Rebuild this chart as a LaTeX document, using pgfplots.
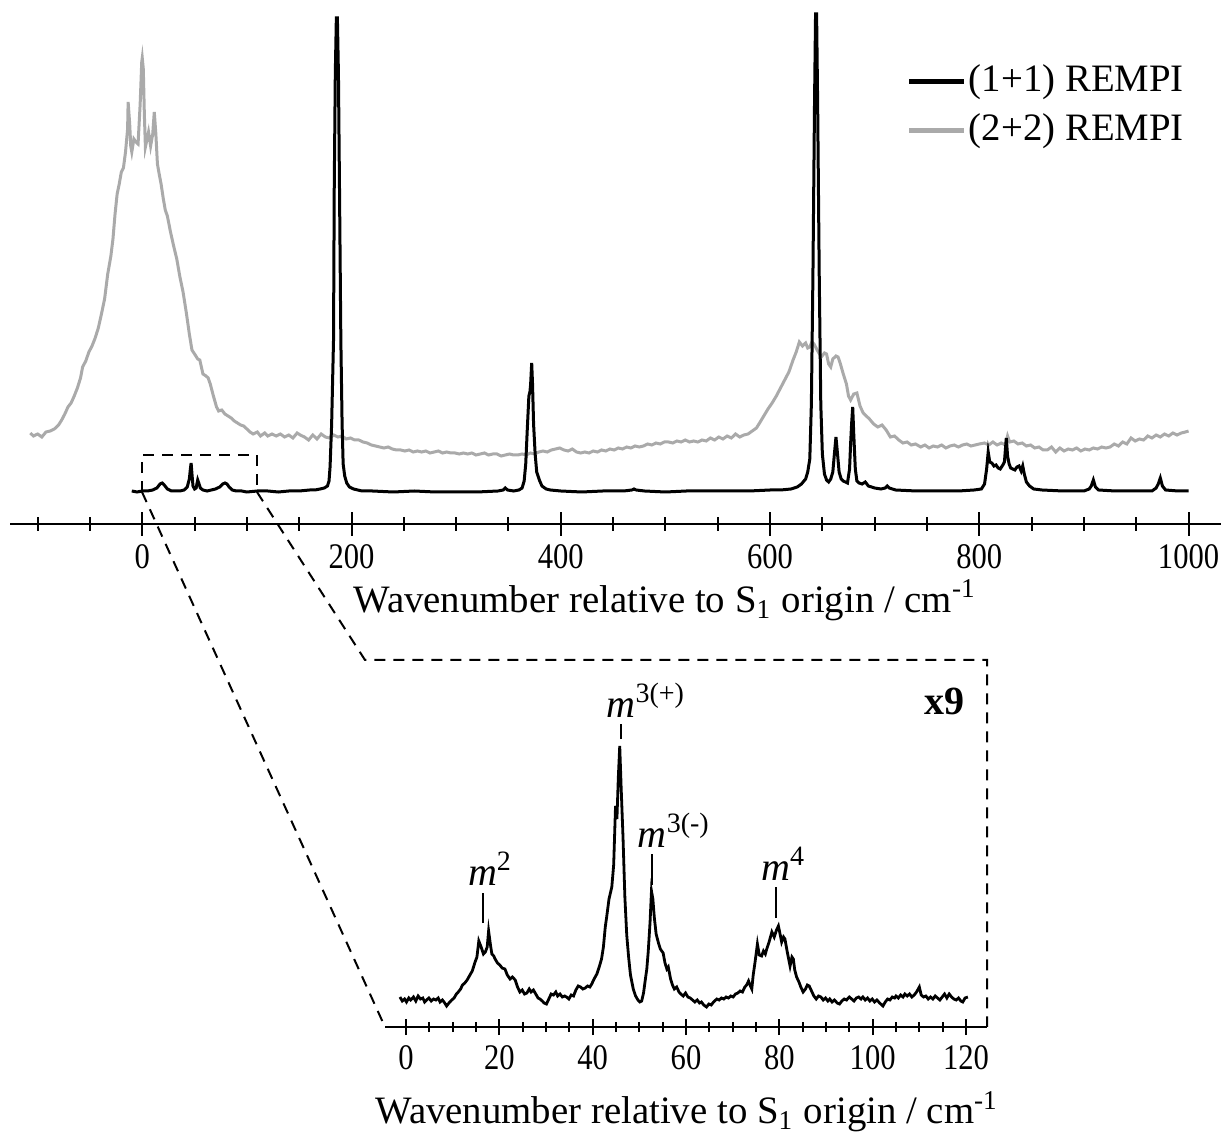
\documentclass[border=0pt]{standalone}
\usepackage{fontspec}
\setmainfont{Liberation Serif}
\newfontfamily\tickfont{Liberation Serif}[FakeStretch=0.85]
\usepackage{pgfplots}
\pgfplotsset{compat=1.18}
\definecolor{lgray}{RGB}{170,170,170}
\newcommand{\fs}{\fontsize{9.7}{11}\selectfont}
\newcommand{\tfs}{\tickfont\fontsize{9}{11}\selectfont}
\begin{document}
\begin{tikzpicture}[font=\fs]
\useasboundingbox (0pt,0pt) rectangle (305.25pt,-285.5pt);
% ---------------- top panel ----------------
\begin{axis}[
  at={(2.5pt,-131pt)}, anchor=south west,
  scale only axis, width=302.75pt, height=131pt,
  xmin=-126.4, xmax=1031, ymin=0, ymax=524,
  axis x line=bottom, axis y line=none,
  axis line style={-, line width=0.5pt},
  xtick={0,200,400,600,800,1000},
  xticklabels={0,200,400,600,800,1000},
  minor xtick={-100,-50,50,100,150,250,300,350,450,500,550,650,700,750,850,900,950},
  xtick align=center, major tick length=6pt, minor tick length=3.5pt,
  every tick/.style={black, line width=0.5pt},
  xticklabel style={font=\tfs, yshift=1.5pt},
  xlabel={Wavenumber relative to S\textsubscript{1} origin / cm\textsuperscript{-1}},
  every axis x label/.style={at={(axis description cs:0.541,-0.145)}, anchor=center, font=\fs},
  legend style={draw=none, fill=none, at={(axis description cs:0.740,0.885)}, anchor=north west,
    inner sep=0pt, row sep=2pt, column sep=0pt, font=\fs, nodes={inner xsep=0.5pt, inner ysep=1pt}},
  legend cell align=left,
  legend image code/.code={\draw[line width=1.25pt] (0pt,0pt) -- (13.75pt,0pt);},
]
\addlegendimage{black}
\addlegendentry{(1+1) REMPI}
\addlegendimage{lgray}
\addlegendentry{(2+2) REMPI}
% (2+2) REMPI
\addplot[forget plot, lgray, line width=0.75pt] coordinates {
(-107,91)(-104,88)(-100,90)(-96,87)(-92,92)(-88,93)(-84,95)(-80,99)(-77,104)(-74,110)
(-71,117)(-68,121)(-65,128)(-62,136)(-59,146)(-57,157)(-54,163)(-51,172)(-48,178)(-45,186)
(-42,196)(-39,210)(-36,225)(-33,250)(-30,268)(-28,285)(-26,310)(-24,330)(-22,340)(-20,352)
(-18,356)(-16,372)(-14,395)(-13.5,422)(-12,400)(-11,378)(-10,372)(-8,385)(-6,382)(-4,380)
(-2,420)(-0.5,462)(0,466)(1,455)(2,410)(3,377)(4,382)(6,392)(8,378)(10,390)
(11.5,412)(13,390)(14.5,360)(16,351)(18,340)(20,326)(22,314)(24,308)(27,292)(30,278)
(33,265)(36,247)(39,232)(42,212)(45,190)(47.5,174)(50,170)(53,165)(55,164)(58,150)
(61,148)(63,146)(65,140)(68,128)(71,117)(73,113)(76,114)(79,110)(82,108)(85,106)
(88,103)(91,101)(94,99)(97,98)(100,95)(103,92)(106,90)(110,92)(113,88)(117,91)
(120,88)(124,90)(128,88)(132,90)(136,87)(140,89)(144,86)(148,91)(151,89)(155,87)
(159,84)(163,89)(167,85)(171,90)(175,87)(179,86)(183,89)(187,87)(191,88)(195,85)
(199,86)(203,84)(207,84)(211,82)(215,81)(219,79)(223,78)(227,77)(231,76)(235,77)
(239,75)(243,74)(247,74)(251,73)(255,74)(259,72)(263,73)(267,72)(271,73)(275,71)
(279,72)(283,73)(287,71)(291,72)(295,71)(299,71)(303,70)(307,71)(311,70)(315,71)
(319,69)(323,70)(327,71)(331,69)(335,70)(339,70)(343,68)(347,69)(351,70)(355,69)
(359,69)(363,70)(367,69)(371,71)(375,70)(379,72)(383,73)(387,72)(391,74)(395,75)
(399,76)(403,74)(407,73)(411,75)(415,72)(419,71)(423,72)(427,71)(431,73)(435,72)
(439,74)(443,73)(447,75)(451,74)(455,76)(459,75)(463,77)(467,76)(471,78)(475,77)
(479,78)(483,80)(487,79)(491,81)(495,80)(499,82)(503,82)(507,81)(511,83)(515,82)
(519,84)(523,82)(527,83)(531,82)(535,84)(539,83)(543,86)(547,84)(551,87)(555,85)
(559,88)(563,86)(567,90)(571,87)(575,89)(579,90)(583,93)(587,96)(590,101)(594,108)
(598,115)(602,121)(606,128)(610,136)(614,144)(618,152)(620,158)(622,164)(625,172)(628,182)
(631,178)(634,181)(636,176)(638,177)(640,182)(642,180)(645,174)(649,167)(652,171)(654,170)
(656,160)(658,157)(660,165)(663,168)(665,167)(667,161)(670,150)(673,140)(675,128)(677,124)
(680,130)(683,131)(686,118)(689,111)(692,108)(695,105)(699,100)(703,97)(707,99)(711,94)
(715,87)(719,88)(723,84)(727,81)(731,82)(735,79)(739,80)(744,77)(748,79)(752,76)
(756,78)(760,77)(764,79)(768,76)(772,78)(776,79)(780,77)(784,79)(788,80)(792,78)
(796,79)(800,80)(805,81)(809,79)(813,82)(817,79)(821,81)(825,79)(827,88)(829,82)
(833,83)(837,80)(841,81)(845,78)(849,79)(853,76)(857,77)(861,74)(865,74)(869,77)
(873,72)(877,76)(881,73)(885,75)(889,74)(893,76)(897,73)(901,75)(905,74)(909,76)
(913,75)(917,77)(921,76)(925,77)(929,80)(933,78)(937,82)(941,80)(945,86)(949,83)
(953,85)(957,84)(961,88)(965,86)(969,89)(973,87)(977,90)(981,88)(985,91)(989,89)
(993,91)(997,92)(1000,93)
};
% (1+1) REMPI
\addplot[forget plot, black, line width=0.75pt] coordinates {
(-10,33)(-5,32)(0,33)(5,33)(10,34)(14,36)(17,40)(19,41)(21,39)(24,35)
(28,33)(32,33)(36,33)(40,34)(43,37)(45,45)(46,55)(46.7,61)(47.5,50)(48.5,38)
(50,35)(51.5,36)(53,44)(54,41)(55.5,36)(58,34)(62,33)(66,34)(70,35)(74,37)
(77,40)(79,41)(81,40)(83,37)(86,34)(90,33)(95,33)(100,32)(110,33)(120,33)
(130,32)(140,33)(150,33)(160,34)(165,34)(170,35)(174,36)(177,38)(178.5,43)(179.5,57)
(181,100)(182.8,184)(183.5,337)(184.5,450)(185.5,506)(186.5,506)(187.5,450)(188.5,337)(189.8,184)(191,100)
(192,60)(193.5,48)(195.4,41)(198,37)(202,35)(210,33)(220,33)(240,32)(260,33)(280,32)
(300,32)(320,32)(340,33)(345,34)(347,36)(349,34)(355,33)(360,34)(363,36)(365,43)
(366.5,60)(368,95)(369.5,128)(370.5,132)(371.2,140)(372.2,161)(373,140)(374,100)(375.5,70)(377,52)
(379.5,44)(382,38)(386,35)(390,34)(400,33)(420,32)(440,33)(460,33)(468,34)(470,35)
(472,34)(480,33)(500,32)(520,33)(540,33)(560,33)(580,33)(600,34)(610,34)(620,35)
(626,37)(630,40)(634,45)(636,52)(638,65)(639.5,120)(641,250)(642.5,420)(643.5,510)(644.5,510)
(645.5,420)(647,250)(648.5,120)(650,70)(652,50)(654,44)(656,42)(658,45)(660,52)(661.5,70)
(663,87)(664.5,70)(666,52)(668,45)(670,43)(672,42)(674,41)(676,55)(677,80)(678,101)
(679,117)(680,90)(681.5,55)(683,43)(685,41)(688,40)(691,42)(694,38)(700,36)(706,35)
(710,36)(712,38)(714,36)(720,34)(740,33)(760,33)(780,33)(795,34)(802,35)(805,40)
(807,55)(808.5,72)(810,62)(812,61)(814,58)(816,59)(818,56)(820,55)(822.5,59)(824,62)
(825.8,86)(827,68)(828.5,60)(830,56)(832,55)(834,54)(836,57)(838,58)(840,53)(841.5,58)
(843,50)(845,42)(848,38)(852,35)(860,34)(880,33)(900,33)(905,35)(907,38)(909,44)
(911,37)(914,34)(930,33)(950,33)(965,33)(969,36)(971,40)(973,46)(975,38)(978,34)
(990,33)(1000,33)
};
\draw[dashed, dash pattern=on 2.75pt off 2pt, line width=0.5pt]
  (axis cs:0,32) -- (axis cs:0,69) -- (axis cs:109.6,69) -- (axis cs:109.6,32);
\end{axis}
% ---------------- inset ----------------
\begin{axis}[
  at={(96.25pt,-256.75pt)}, anchor=south west,
  scale only axis, width=150.5pt, height=91.75pt,
  xmin=-4.5, xmax=124.5, ymin=0, ymax=367,
  axis x line=bottom, axis y line=none,
  axis line style={-, line width=0.5pt},
  xtick={0,20,40,60,80,100,120},
  xticklabels={0,20,40,60,80,100,120},
  minor x tick num=3,
  xtick align=center, major tick length=4pt, minor tick length=2.5pt,
  every tick/.style={black, line width=0.5pt},
  xticklabel style={font=\tfs, yshift=1pt},
  xlabel={Wavenumber relative to S\textsubscript{1} origin / cm\textsuperscript{-1}},
  every axis x label/.style={at={(axis description cs:0.502,-0.231)}, anchor=center, font=\fs},
  clip=false,
]
\addplot[black, line width=0.7pt] coordinates {
(-1.3,30)(-0.8,26)(-0.3,28)(0.1,25)(0.6,29)(1.0,27)(1.6,30)(2.1,26)(2.6,31)(3.1,28)
(3.6,29)(4.0,25)(4.4,27)(4.9,29)(5.4,26)(5.9,28)(6.4,27)(6.9,29)(7.3,25)(7.8,27)
(8.3,24)(8.7,21)(9.2,24)(9.8,27)(10.3,29)(10.8,33)(11.2,35)(11.7,38)(12.1,42)(12.6,44)
(13.1,47)(13.7,52)(14.2,56)(14.8,65)(15.2,70)(15.6,86)(16.1,80)(16.6,73)(17.0,75)(17.4,80)
(17.7,96)(18.1,82)(18.4,73)(18.8,71)(19.1,68)(19.6,64)(20.1,62)(20.6,59)(21.2,58)(21.7,52)
(22.3,48)(22.8,50)(23.4,47)(23.9,40)(24.4,35)(24.9,37)(25.4,33)(25.9,34)(26.4,38)(26.8,35)
(27.3,37)(27.8,33)(28.3,29)(28.7,28)(29.2,26)(29.6,24)(30.1,23)(30.6,28)(31.1,33)(31.6,32)
(32.1,35)(32.5,31)(33.0,33)(33.5,30)(34.0,31)(34.4,30)(34.9,28)(35.4,32)(35.9,31)(36.4,37)
(36.9,41)(37.4,40)(37.9,38)(38.4,39)(38.9,41)(39.4,40)(39.8,43)(40.3,48)(40.9,53)(41.4,60)
(41.9,68)(42.3,80)(42.7,100)(43.0,110)(43.5,128)(44.1,140)(44.5,162)(44.9,221)(45.2,208)(45.5,250)
(45.8,281)(46.1,240)(46.5,190)(46.9,130)(47.3,92)(47.7,70)(48.1,52)(48.7,38)(49.2,31)(49.7,27)
(50.1,25)(50.5,26)(50.9,34)(51.3,48)(51.6,58)(51.9,75)(52.3,105)(52.6,136)(52.9,128)(53.2,110)
(53.6,93)(54.1,84)(54.5,78)(55.1,74)(55.5,64)(55.9,58)(56.2,60)(56.7,48)(57.1,42)(57.5,38)
(58.0,40)(58.5,35)(58.9,33)(59.4,31)(59.9,34)(60.4,30)(60.9,29)(61.4,27)(61.9,25)(62.4,27)
(62.9,24)(63.3,25)(63.8,22)(64.4,20)(64.9,23)(65.4,22)(65.9,25)(66.6,28)(67.1,27)(67.6,29)
(68.1,28)(68.6,30)(69.1,29)(69.6,31)(70.1,30)(70.6,33)(71.1,34)(71.6,36)(72.1,35)(72.6,40)
(73.0,42)(73.4,46)(73.8,41)(74.1,38)(74.4,52)(74.8,65)(75.3,83)(75.7,72)(76.2,71)(76.6,76)
(77.0,73)(77.3,78)(77.8,85)(78.4,95)(78.9,90)(79.4,97)(79.8,101)(80.2,92)(80.5,85)(80.9,90)
(81.2,88)(81.7,75)(82.0,68)(82.3,61)(82.7,70)(83.0,68)(83.3,57)(83.7,50)(84.2,45)(84.6,40)
(85.1,35)(85.6,38)(86.0,42)(86.4,41)(86.9,36)(87.4,31)(87.9,28)(88.4,31)(88.9,30)(89.4,27)
(89.9,29)(90.4,26)(90.8,28)(91.3,25)(91.8,27)(92.4,24)(92.9,23)(93.4,26)(93.9,28)(94.4,27)
(95.0,30)(95.5,28)(96.0,26)(96.5,29)(97.0,30)(97.5,28)(97.9,30)(98.4,27)(98.9,29)(99.4,26)
(99.9,28)(100.4,25)(100.9,27)(101.5,24)(102.2,21)(102.7,25)(103.2,28)(103.7,27)(104.2,30)(104.7,29)
(105.0,31)(105.5,29)(106.0,32)(106.5,30)(106.9,33)(107.4,31)(107.9,33)(108.4,30)(108.9,32)(109.4,35)
(110.0,40)(110.4,32)(110.9,30)(111.4,31)(111.9,28)(112.4,30)(112.9,28)(113.4,31)(113.9,29)(114.4,27)
(114.9,30)(115.4,33)(115.9,29)(116.4,33)(116.9,30)(117.4,28)(117.9,27)(118.4,29)(118.9,26)(119.3,25)
(119.8,29)(120.4,30)
};
\draw[line width=0.5pt] (axis cs:16.4,104) -- (axis cs:16.4,134);
\draw[line width=0.5pt] (axis cs:46.1,288) -- (axis cs:46.1,303);
\draw[line width=0.5pt] (axis cs:52.8,142) -- (axis cs:52.8,173);
\draw[line width=0.5pt] (axis cs:79.2,109) -- (axis cs:79.2,140);
\node[anchor=base, inner sep=0pt, font=\fontsize{10}{11}\selectfont] at (axis cs:16.4,142) {\textit{m}\rlap{\textsuperscript{2}}};
\node[anchor=base, inner sep=0pt, font=\fontsize{10}{11}\selectfont] at (axis cs:46.1,310) {\textit{m}\rlap{\textsuperscript{3(+)}}};
\node[anchor=base, inner sep=0pt, font=\fontsize{10}{11}\selectfont] at (axis cs:52.8,180) {\textit{m}\rlap{\textsuperscript{3(-)}}};
\node[anchor=base, inner sep=0pt, font=\fontsize{10}{11}\selectfont] at (axis cs:79.2,147) {\textit{m}\rlap{\textsuperscript{4}}};
\node[anchor=base east, inner sep=0pt, font=\bfseries\fontsize{10}{11}\selectfont] at (axis cs:119.8,312) {x9};
\end{axis}
% ---------------- zoom connectors (px units) ----------------
\begin{scope}[x=0.25pt, y=-0.25pt]
\draw[dash pattern=on 2.75pt off 2pt, line width=0.5pt] (142,492) -- (385,1027);
\draw[dash pattern=on 2.75pt off 2pt, line width=0.5pt] (257,492) -- (365,660) -- (987,660) -- (987,1027);
\end{scope}
\end{tikzpicture}
\end{document}
